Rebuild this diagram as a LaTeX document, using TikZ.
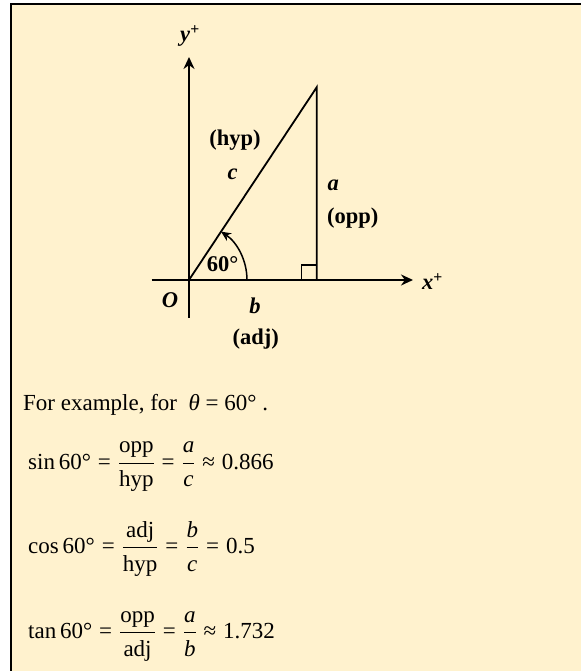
\documentclass[tikz,border=0pt]{standalone}
\usepackage{amsmath}
\usepackage{fontspec}
\setmainfont{Liberation Serif}
\usetikzlibrary{arrows.meta}
\definecolor{paper}{RGB}{255,242,206}
\newcommand{\bi}[1]{\textbf{\textit{#1}}}
\newcommand{\eqs}{\mathrel{\text{=}}}
\newcommand{\apx}{\mathrel{\text{≈}}}

\begin{document}
\begin{tikzpicture}[x=1pt,y=1pt,axis/.style={line width=1.8,-{Stealth[length=12,width=11]}},side/.style={line width=1.8},lbl/.style={font=\fontsize{22.5}{26}\selectfont\bfseries,inner sep=0pt,anchor=base},txt/.style={font=\fontsize{23}{27}\selectfont,anchor=base west,inner sep=0pt}]
\useasboundingbox (0,0) rectangle (581,671);
\fill[paper] (11,0) rectangle (581,667);
\draw[line width=2.3] (11,0) -- (11,667) -- (581,667);
\coordinate (O) at (189,391); \coordinate (T) at (316.7,583.7); \coordinate (F) at (316.7,391);
\coordinate (xs) at (151.7,391); \coordinate (xe) at (413,391); \coordinate (ys) at (189,353); \coordinate (ye) at (189,614);
\draw[axis](xs)--(xe);\draw[axis](ys)--(ye);\draw[side](O)--(T)--(F);
\draw[line width=1.5]([xshift=-15]F)|-([yshift=15]F);
\draw[line width=1.5,-{Stealth[length=10,width=9]}]([xshift=58]O) arc (0:56.5:58);
\node[lbl,anchor=base west] (ylab) at (180,629) {\bi{y}\textsuperscript{+}};
\node[lbl,anchor=base west] (xlab) at (422,381) {\bi{x}\textsuperscript{+}};
\node[lbl,anchor=base west] (olab) at (161.7,363) {\bi{O}};
\node[lbl] (blab) at (255,357.7) {\bi{b}};
\node[lbl] (adj) at (255.8,326.3) {(adj)};
\node[lbl] (clab) at (232.7,491.7) {\bi{c}};
\node[lbl] (hyp) at (235,525.6) {(hyp)};
\node[lbl] (alab) at (333.3,480.3) {\bi{a}};
\node[lbl,anchor=base west] (opp) at (327,447.2) {(opp)};
\node[lbl] (ang) at (222.5,399.3) {60°};
\node[txt] (ex) at (23,260.3) {For example, for\ \ \textit{θ} = 60° .};
\node[txt] (sin) at (28,201.3) {$\text{sin\,60°}\eqs\dfrac{\text{opp}}{\text{hyp}}\eqs\dfrac{\textit{a}}{\textit{c}}\apx\text{0.866}$};
\node[txt] (cos) at (28,117) {$\text{cos\,60°}\eqs\dfrac{\text{adj}}{\text{hyp}}\eqs\dfrac{\textit{b}}{\textit{c}}\eqs\text{0.5}$};
\node[txt] (tan) at (28,32) {$\text{tan\,60°}\eqs\dfrac{\text{opp}}{\text{adj}}\eqs\dfrac{\textit{a}}{\textit{b}}\apx\text{1.732}$};
\end{tikzpicture}
\end{document}
